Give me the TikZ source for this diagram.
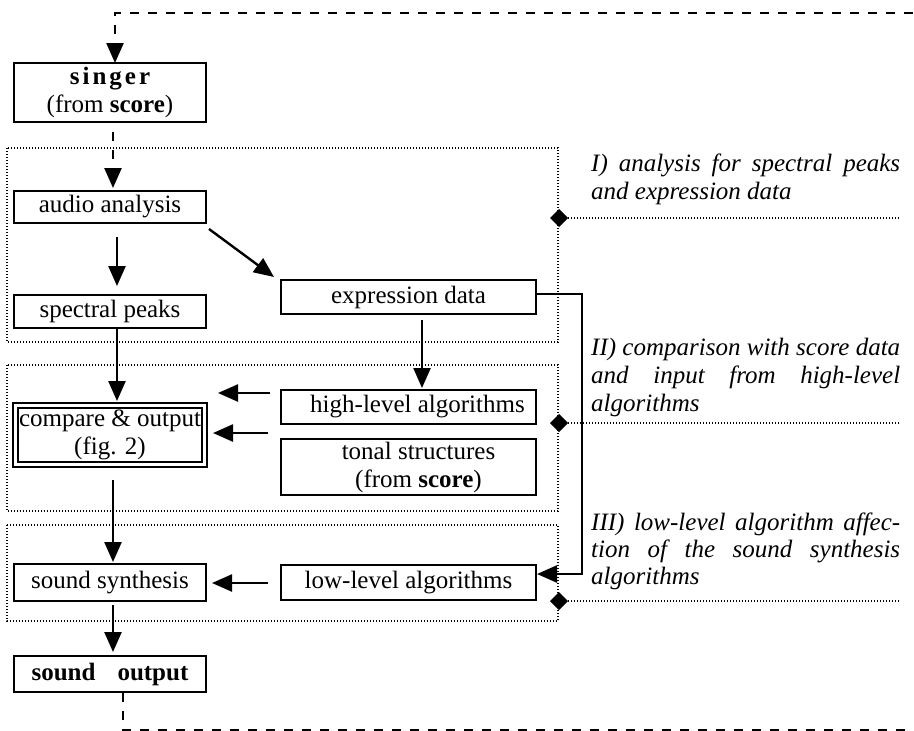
\documentclass[tikz,border=0pt]{standalone}
\usepackage{fontspec}
\setmainfont{Liberation Serif}
\usetikzlibrary{arrows.meta,calc,shapes.geometric}

\begin{document}
\begin{tikzpicture}[x=1pt,y=-1pt,
  font=\fontsize{25}{28}\selectfont,
  box/.style={draw,line width=2.4pt,inner sep=0pt,outer sep=0pt,align=center},
  arr/.style={line width=2.4pt,-{Triangle[length=20pt,width=17pt]}},
  feedback/.style={line width=2.4pt,dash pattern=on 9pt off 9pt},
  region/.style={line width=1.5pt,dash pattern=on 1.2pt off 1.8pt},
  marker/.style={diamond,fill,inner sep=0pt,outer sep=0pt,minimum width=18pt,minimum height=18pt},
  note/.style={anchor=base west,inner sep=0pt,font=\fontsize{25}{28}\selectfont\itshape}
]
\useasboundingbox (0,0) rectangle (914,731);

% dotted stage regions
\draw[region] (7,148) rectangle (558,342);
\draw[region] (7,365) rectangle (558,511);
\draw[region] (7,525) rectangle (558,621);

% stage markers and their leader lines
\node[marker] (m1) at (559,218) {};
\node[marker] (m2) at (559,423) {};
\node[marker] (m3) at (559,601) {};
\coordinate (e1) at (900,218);
\coordinate (e2) at (900,423);
\coordinate (e3) at (900,601);
\draw[region] (m1) -- (e1);
\draw[region] (m2) -- (e2);
\draw[region] (m3) -- (e3);

% processing blocks
\node[box,minimum width=192pt,minimum height=59pt] (singer) at (110,92.5)
  {\textbf{s\kern3pt i\kern3pt n\kern3pt g\kern3pt e\kern3pt r}\\(from \textbf{score})};
\node[box,minimum width=192pt,minimum height=32pt] (audio) at (110,207) {audio analysis};
\node[box,minimum width=192pt,minimum height=33pt] (spec) at (110,311.5) {spectral peaks};
\node[box,minimum width=255pt,minimum height=34pt] (expr) at (408.5,297) {expression data};
\node[box,minimum width=255pt,minimum height=34pt] (high) at (408.5,407) {\hspace*{18pt}high-level algorithms};
\node[box,minimum width=255pt,minimum height=56pt] (tonal) at (408.5,467)
  {\hspace*{20pt}tonal structures\\\hspace*{20pt}(from \textbf{score})};
\node[box,double,line width=2.2pt,double distance=3pt,minimum width=189pt,minimum height=59pt] (compare) at (110,435)
  {compare \& output\\(fig. 2)};
\node[box,minimum width=192pt,minimum height=37pt] (synth) at (110,582.5) {sound synthesis};
\node[box,minimum width=255pt,minimum height=35pt] (low) at (408.5,582.5) {low-level algorithms};
\node[box,minimum width=192pt,minimum height=36pt] (out) at (110,674) {\textbf{sound\hspace{22pt}output}};

% signal flow
\draw[arr,feedback] ($(singer.south)+(3,10)$) -- ($(audio.north)+(3,-3)$);
\draw[arr] ($(audio.south)+(7,14)$) -- ($(spec.north)+(7,-9)$);
\draw[arr] ($(audio.south east)+(3,6)$) -- ($(expr.north west)+(-7,-3)$);
\draw[arr] ($(spec.south)+(7,1)$) -- ($(compare.north)+(7,-4.5)$);
\draw[arr] ($(expr.south)+(13.5,6)$) -- ($(high.north)+(13.5,-2)$);
\draw[arr] ($(high.west)+(-11,-14)$) -- ($(high.west)+(-63,-14)$);
\draw[arr] ($(tonal.north west)+(-13,-6)$) -- ($(tonal.north west)+(-68,-6)$);
\draw[arr] ($(compare.south)+(3,15.5)$) -- ($(synth.north)+(3,-2)$);
\draw[arr] ($(low.west)+(-13,0.5)$) -- ($(synth.east)+(6,0.5)$);
\draw[arr] ($(synth.south)+(3,4)$) -- ($(out.north)+(3,-4)$);
\draw[arr] ($(expr.east)+(0,-3)$) -- ++(46,0) |- ($(low.east)+(1,-8.5)$);

% feedback loop from the output back to the singer
\coordinate (fbBR) at (914.8,730);
\coordinate (fbTR) at (914.8,13);
\draw[arr,feedback] ($(out.south)+(13,1)$) |- (fbBR) -- (fbTR) -| ($(singer.north)+(5,0)$);

% stage descriptions
\node[note] (t1a) at (591,171) {\makebox[309pt][s]{I) analysis for spectral peaks}};
\node[note] (t1b) at (591,199) {and expression data};
\node[note] (t2a) at (591,355) {\makebox[309pt][s]{II) comparison with score data}};
\node[note] (t2b) at (591,383) {\makebox[309pt][s]{and input from high-level}};
\node[note] (t2c) at (591,411) {algorithms};
\node[note] (t3a) at (591,530.5) {\makebox[309pt][s]{III) low-level algorithm affec-}};
\node[note] (t3b) at (591,557) {\makebox[309pt][s]{tion of the sound synthesis}};
\node[note] (t3c) at (591,584) {algorithms};
\end{tikzpicture}
\end{document}
